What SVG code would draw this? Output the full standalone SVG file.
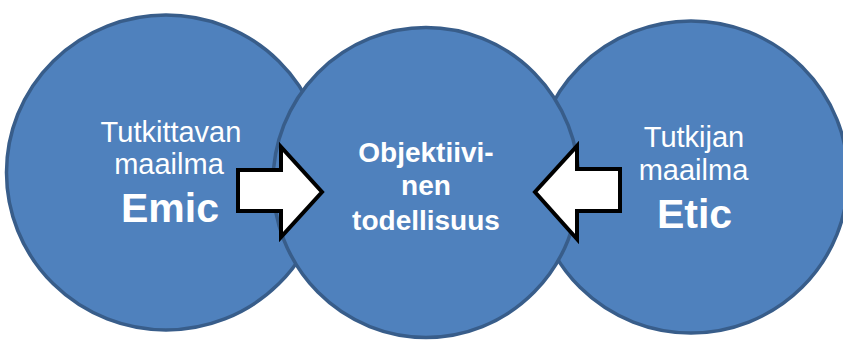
<svg xmlns="http://www.w3.org/2000/svg" width="843" height="340" viewBox="0 0 843 340">
  <style>
    .world { fill: #4F81BD; stroke: #385D8A; stroke-width: 3.5; }
    .arrow { fill: #FFFFFF; stroke: #000000; stroke-width: 4; stroke-linejoin: miter; stroke-miterlimit: 10; }
    text { font-family: "Liberation Sans", Arial, sans-serif; fill: #FFFFFF; text-anchor: middle; }
    .plain { font-size: 29px; }
    .big { font-size: 41px; font-weight: bold; }
    .mid { font-size: 28px; font-weight: bold; }
  </style>
  <rect width="843" height="340" fill="#FFFFFF"/>

  <g id="emic">
    <ellipse class="world" cx="166" cy="172.5" rx="159.5" ry="157.5"/>
    <text class="plain" x="171" y="142">Tutkittavan</text>
    <text class="plain" x="169" y="174">maailma</text>
    <text class="big" x="170" y="222">Emic</text>
  </g>

  <g id="etic">
    <ellipse class="world" cx="691" cy="177" rx="157" ry="156"/>
    <text class="plain" x="694" y="147">Tutkijan</text>
    <text class="plain" x="693.5" y="180">maailma</text>
    <text class="big" x="694.5" y="228">Etic</text>
  </g>

  <g id="objektiivinen">
    <ellipse class="world" cx="426" cy="182.5" rx="153" ry="155"/>
    <text class="mid" x="426" y="162">Objektiivi-</text>
    <text class="mid" x="426" y="195">nen</text>
    <text class="mid" x="426" y="230">todellisuus</text>
  </g>

  <g id="connectors">
    <path class="arrow" d="M238,170 L281,170 L281,147 L322,192 L281,237 L281,211 L238,211 Z"/>
    <path class="arrow" d="M620,169 L577,169 L577,146 L535,192 L577,239 L577,211 L620,211 Z"/>
  </g>
</svg>
